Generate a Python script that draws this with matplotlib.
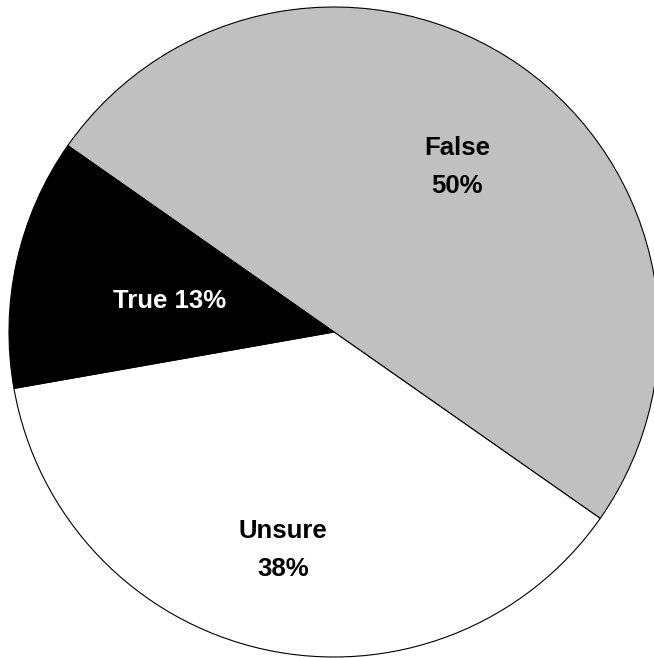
import matplotlib.pyplot as plt

labels = ["False", "Unsure", "True"]
shares = [50.0, 37.5, 12.5]
colors = ["#c0c0c0", "#ffffff", "#000000"]
text_colors = ["black", "black", "white"]

fig = plt.figure(figsize=(6.54, 6.58), dpi=100)
ax = fig.add_axes([0, 0, 1, 1])

wedges, _ = ax.pie(
    shares,
    colors=colors,
    startangle=145,
    counterclock=False,
    center=(334, 326),
    radius=325,
    frame=True,
    wedgeprops={"edgecolor": "black", "linewidth": 0.8},
)
ax.set_xlim(0, 654)
ax.set_ylim(0, 658)
ax.set_aspect("equal")
ax.axis("off")

# label positions in figure pixels (y from top)
label_xy = [(457, 167), (283, 550), (170, 301)]
for name, val, col, (x, y) in zip(labels, shares, text_colors, label_xy):
    pct = f"{val:.0f}%" if val % 1 == 0 else f"{round(val + 0.01):.0f}%"
    txt = f"{name} {pct}" if name == "True" else f"{name}\n{pct}"
    ax.text(x, 658 - y, txt, ha="center", va="center", color=col,
            fontsize=18.5, fontweight="bold", family="Liberation Sans",
            linespacing=1.75)

fig.savefig("out.png", dpi=100)
